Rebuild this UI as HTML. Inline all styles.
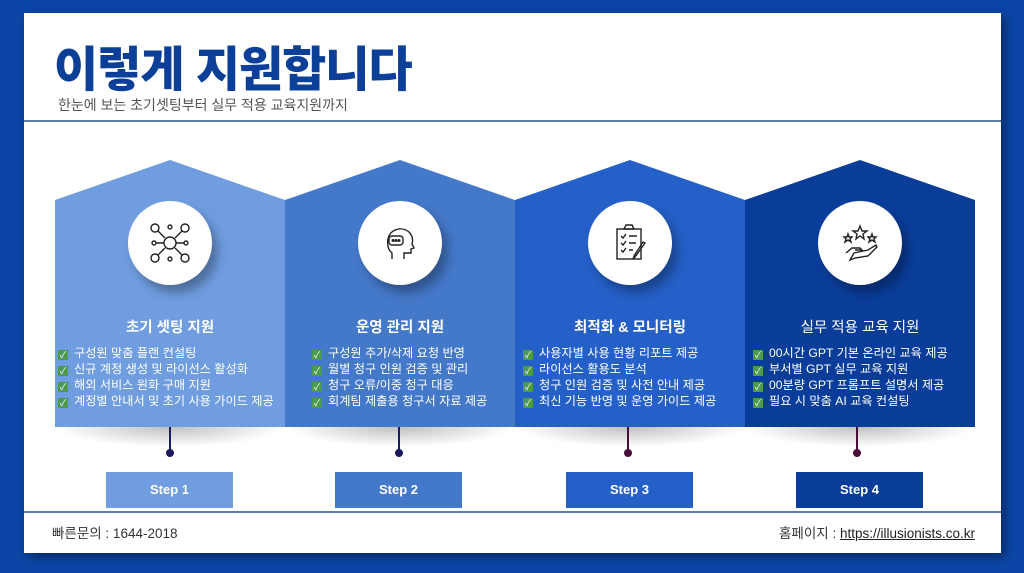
<!DOCTYPE html>
<html><head><meta charset="utf-8"><style>
*{margin:0;padding:0;box-sizing:border-box}
body{width:1024px;height:573px;background:#0b46a6;position:relative;overflow:hidden;font-family:"Liberation Sans","Noto Sans CJK KR",sans-serif}
.card{position:absolute;left:24px;top:13px;width:977px;height:540px;background:#fff;box-shadow:4px 4px 10px rgba(0,0,0,.4)}
.title{position:absolute;left:54px;top:30px;font-size:48px;font-weight:900;color:#0b3f98;letter-spacing:-1px}
.sub{position:absolute;left:58px;top:95px;font-size:14px;color:#555}
.hl{position:absolute;left:24px;width:977px;height:2px;background:#5b7fa8}
.col{position:absolute;top:160px;width:230px;height:267px}
.col>svg{position:absolute;left:0;top:0}
.circ{position:absolute;left:73px;top:41px;width:84px;height:84px;border-radius:50%;background:#fff;box-shadow:6px 8px 10px rgba(0,0,0,.3);display:flex;align-items:center;justify-content:center}
.h{position:absolute;top:156px;left:0;width:230px;text-align:center;color:#fff;font-weight:bold;font-size:14.5px}
.ul{position:absolute;top:185px;left:3px;color:#fff;font-size:12.2px;line-height:16px;white-space:nowrap}
.ck{display:inline-block;width:10px;height:10px;background:#4d9a4d;color:#fff;font-size:9px;line-height:10px;text-align:center;margin-right:6px;vertical-align:-1px}
.shadow{position:absolute;top:427px;width:230px;height:20px;background:radial-gradient(ellipse at 50% 0,rgba(0,0,0,.25),rgba(0,0,0,0) 70%)}
.ln{position:absolute;top:427px;width:2px;height:26px}
.dot{position:absolute;top:449px;width:8px;height:8px;border-radius:50%}
.step{position:absolute;top:472px;width:127px;height:36px;color:#fff;font-weight:bold;font-size:13px;text-align:center;line-height:36px}
.ft{position:absolute;top:522px;font-size:13.5px;color:#333}
</style></head><body>
<div class="card"></div>
<div class="title">이렇게 지원합니다</div>
<div class="sub">한눈에 보는 초기셋팅부터 실무 적용 교육지원까지</div>
<div class="hl" style="top:120px"></div>

<div class="col" style="left:55px"><svg width="230" height="267"><polygon points="0,40 115,0 230,40 230,267 0,267" fill="#6f9de0"/></svg>
<div class="circ"><svg width="40" height="40" viewBox="0 0 40 40" fill="none" stroke="#222" stroke-width="1.4"><circle cx="20" cy="20" r="6"/><circle cx="5" cy="5" r="4"/><circle cx="35" cy="5" r="4"/><circle cx="5" cy="35" r="4"/><circle cx="35" cy="35" r="4"/><circle cx="20" cy="4" r="2"/><circle cx="20" cy="36" r="2"/><circle cx="4" cy="20" r="2"/><circle cx="36" cy="20" r="2"/><path d="M8 8L15 15M32 8L25 15M8 32L15 25M32 32L25 25M6 20H14M26 20H34"/></svg></div>
<div class="h">초기 셋팅 지원</div>
<div class="ul"><span class="ck">✓</span>구성원 맞춤 플랜 컨설팅<br><span class="ck">✓</span>신규 계정 생성 및 라이선스 활성화<br><span class="ck">✓</span>해외 서비스 원화 구매 지원<br><span class="ck">✓</span>계정별 안내서 및 초기 사용 가이드 제공</div></div>

<div class="col" style="left:285px"><svg width="230" height="267"><polygon points="0,40 115,0 230,40 230,267 0,267" fill="#4478c9"/></svg>
<div class="circ"><svg width="40" height="40" viewBox="0 0 40 40" fill="none" stroke="#222" stroke-width="1.4"><path d="M12 36V30C8 27 7 22 8 16C10 6 22 3 29 9C33 13 33 18 32 21L34 25L31 26V30H24V36"/><rect x="9" y="13" width="14" height="9" rx="3"/><circle cx="13" cy="17.5" r=".8"/><circle cx="16" cy="17.5" r=".8"/><circle cx="19" cy="17.5" r=".8"/></svg></div>
<div class="h">운영 관리 지원</div>
<div class="ul" style="left:27px"><span class="ck">✓</span>구성원 추가/삭제 요청 반영<br><span class="ck">✓</span>월별 청구 인원 검증 및 관리<br><span class="ck">✓</span>청구 오류/이중 청구 대응<br><span class="ck">✓</span>회계팀 제출용 청구서 자료 제공</div></div>

<div class="col" style="left:515px"><svg width="230" height="267"><polygon points="0,40 115,0 230,40 230,267 0,267" fill="#2460c8"/></svg>
<div class="circ"><svg width="40" height="40" viewBox="0 0 40 40" fill="none" stroke="#222" stroke-width="1.4"><rect x="7" y="6" width="24" height="30"/><path d="M14 6L16 2H22L24 6Z"/><path d="M11 13L13 15L16 11M19 13H27M11 20L13 22L16 18M19 20H26M11 27L13 29L16 25M19 27H23M35 20L25 34L23 36L24 33L33 19Z"/></svg></div>
<div class="h">최적화 &amp; 모니터링</div>
<div class="ul" style="left:8px"><span class="ck">✓</span>사용자별 사용 현황 리포트 제공<br><span class="ck">✓</span>라이선스 활용도 분석<br><span class="ck">✓</span>청구 인원 검증 및 사전 안내 제공<br><span class="ck">✓</span>최신 기능 반영 및 운영 가이드 제공</div></div>

<div class="col" style="left:745px"><svg width="230" height="267"><polygon points="0,40 115,0 230,40 230,267 0,267" fill="#0a3d9a"/></svg>
<div class="circ"><svg width="40" height="40" viewBox="0 0 40 40" fill="none" stroke="#222" stroke-width="1.4"><path d="M20 3L22 8H27L23 11L24 16L20 13L16 16L17 11L13 8H18Z"/><path d="M8 11L9 14H12L10 16L11 19L8 17L5 19L6 16L4 14H7Z"/><path d="M32 11L33 14H36L34 16L35 19L32 17L29 19L30 16L28 14H31Z"/><path d="M6 30L12 25H20L22 27H15M14 30L28 27L36 22L37 24L28 33L15 35L10 37Z"/></svg></div>
<div class="h" style="font-weight:normal">실무 적용 교육 지원</div>
<div class="ul" style="left:8px"><span class="ck">✓</span>00시간 GPT 기본 온라인 교육 제공<br><span class="ck">✓</span>부서별 GPT 실무 교육 지원<br><span class="ck">✓</span>00분량 GPT 프롬프트 설명서 제공<br><span class="ck">✓</span>필요 시 맞춤 AI 교육 컨설팅</div></div>

<div class="shadow" style="left:55px"></div><div class="shadow" style="left:285px"></div><div class="shadow" style="left:515px"></div><div class="shadow" style="left:745px"></div>
<div class="ln" style="left:169px;background:#1c1a5e"></div><div class="dot" style="left:166px;background:#1c1a5e"></div>
<div class="ln" style="left:398px;background:#1c1a5e"></div><div class="dot" style="left:395px;background:#1c1a5e"></div>
<div class="ln" style="left:627px;background:#4a0e3a"></div><div class="dot" style="left:624px;background:#4a0e3a"></div>
<div class="ln" style="left:856px;background:#4a0e3a"></div><div class="dot" style="left:853px;background:#4a0e3a"></div>

<div class="step" style="left:106px;background:#6f9de0">Step 1</div>
<div class="step" style="left:335px;background:#4478c9">Step 2</div>
<div class="step" style="left:566px;background:#2460c8">Step 3</div>
<div class="step" style="left:796px;background:#0a3d9a">Step 4</div>

<div class="hl" style="top:511px"></div>
<div class="ft" style="left:52px">빠른문의 : 1644-2018</div>
<div class="ft" style="right:49px">홈페이지 : <span style="text-decoration:underline;color:#222">https://illusionists.co.kr</span></div>
</body></html>
